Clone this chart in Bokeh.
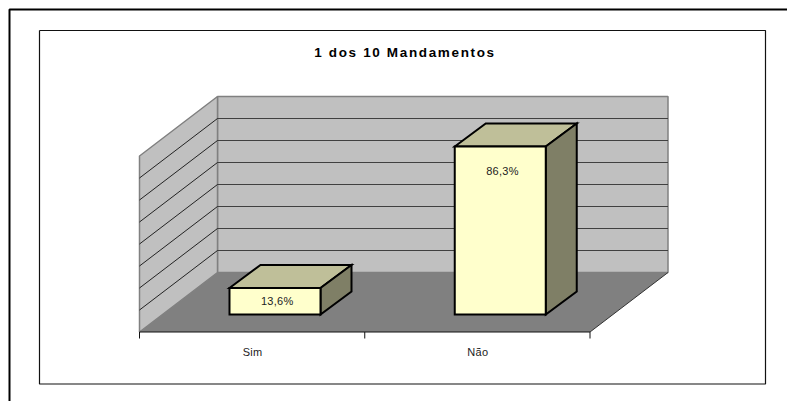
from bokeh.plotting import figure
from bokeh.models import Range1d
from bokeh.embed import file_html
from bokeh.resources import INLINE
from bokeh.core.properties import value

# data
categories = ["Sim", "Não"]
percent = [13.6, 86.3]
percent_labels = ["13,6%", "86,3%"]
title_text = "1 dos 10 Mandamentos"
grid_steps = [0, 1, 2, 3, 4, 5, 6, 7, 8]

# projection of the 3-D box into page pixels
X0, X1 = 139.0, 589.5        # front floor edge
Y0 = 331.5                   # front floor y
DX, DY = 78.0, 59.5          # depth of the box
STEP = 22.0                  # wall grid step
PX_PER_PCT = 168.0 / 86.3
SLOT = (X1 - X0) / len(categories)
BAR_W = 91.0
BAR_DX, BAR_DY = 31.0, 23.0
BAR_LEFT_OFFSET = 90.0
BAR_FRONT_Y = 314.0
W, H = 787, 401

p = figure(width=W, height=H, output_backend="svg", toolbar_location=None,
           x_range=Range1d(0, W), y_range=Range1d(H, 0), min_border=0,
           outline_line_color=None, border_fill_color="white", background_fill_color="white")
p.axis.visible = False
p.grid.visible = False
p.styles = {"letter-spacing": "0.3px"}

# frames
p.line([9, 9, W], [H, 9, 9], line_color="black", line_width=2)
p.line([39, 39, 765, 765, 39], [30, 383.5, 383.5, 30, 30], line_color="#111111", line_width=1.2)

# walls
top = Y0 - DY - STEP * grid_steps[-1]
p.patch([X0 + DX, X1 + DX, X1 + DX, X0 + DX], [top, top, Y0 - DY, Y0 - DY],
        fill_color="#C0C0C0", line_color="#808080", line_width=1.5)
p.patch([X0, X0 + DX, X0 + DX, X0], [Y0 - STEP * grid_steps[-1], top, Y0 - DY, Y0],
        fill_color="#C0C0C0", line_color="#808080", line_width=1.5)

# grid
for s in grid_steps[1:-1]:
    y = Y0 - DY - STEP * s
    p.line([X0 + DX, X1 + DX], [y, y], line_color="#404040", line_width=1.2)
    p.line([X0, X0 + DX], [y + DY, y], line_color="#111111", line_width=0.9)

# floor
p.patch([X0, X1, X1 + DX, X0 + DX], [Y0, Y0, Y0 - DY, Y0 - DY], fill_color="#808080", line_color=None)
p.line([X1, X1 + DX], [Y0, Y0 - DY], line_color="#333333", line_width=1)

# category axis
p.line([X0, X1], [Y0, Y0], line_color="#111111", line_width=1.2)
for i in range(len(categories) + 1):
    x = X0 + SLOT * i
    p.line([x, x], [Y0, Y0 + 6.5], line_color="#111111", line_width=1)
p.text([X0 + SLOT * (i + 0.5) for i in range(len(categories))], [Y0 + 19.5] * len(categories),
       text=categories, text_font=value("Liberation Sans"), text_font_size="11px",
       text_align="center", text_baseline="middle", text_color="#222222")

# bars
for i, v in enumerate(percent):
    l = X0 + SLOT * i + BAR_LEFT_OFFSET
    r = l + BAR_W
    b = BAR_FRONT_Y
    t = b - v * PX_PER_PCT
    p.patch([l, l + BAR_DX, r + BAR_DX, r], [t, t - BAR_DY, t - BAR_DY, t],
            fill_color="#BFBF99", line_color="black", line_width=2, line_join="miter")
    p.patch([r, r + BAR_DX, r + BAR_DX, r], [t, t - BAR_DY, b - BAR_DY, b],
            fill_color="#7F7F66", line_color="black", line_width=2, line_join="miter")
    p.patch([l, r, r, l], [t, t, b, b],
            fill_color="#FFFFCC", line_color="black", line_width=2, line_join="miter")
    p.text([(l + r) / 2 + 1.5], [t + 24.5 if v > 50 else (t + b) / 2], text=[percent_labels[i]],
           text_font=value("Liberation Sans"), text_font_size="11px",
           text_align="center", text_baseline="middle", text_color="#222222")

# title, in a transparent figure of its own laid over the chart (wide letter spacing)
TW, TH, TX, TY = 300, 30, 253.5, 37
TITLE_X = 387.5  # bokeh anchors the text by its width without the letter spacing
q = figure(width=TW, height=TH, output_backend="svg", toolbar_location=None,
           x_range=Range1d(TX, TX + TW), y_range=Range1d(TY + TH, TY), min_border=0,
           outline_line_color=None, border_fill_color=None, background_fill_color=None)
q.axis.visible = False
q.grid.visible = False
q.styles = {"letter-spacing": "1.65px", "position": "absolute",
            "margin-left": f"{TX}px", "margin-top": f"{TY - H}px"}
q.text([TITLE_X], [TY + TH / 2], text=[title_text], text_font=value("Liberation Sans"),
       text_font_size="13.5px", text_font_style="bold", text_align="center", text_baseline="middle",
       text_color="black")

open("out.html", "w").write(file_html([p, q], INLINE))
